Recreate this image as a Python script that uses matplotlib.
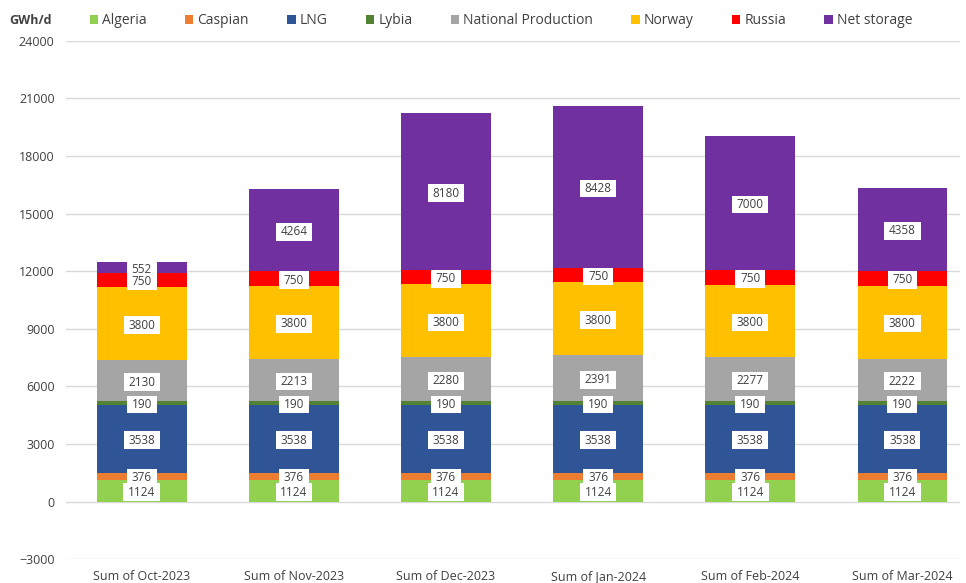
import numpy as np
import matplotlib.pyplot as plt

months = ["Sum of Oct-2023", "Sum of Nov-2023", "Sum of Dec-2023",
          "Sum of Jan-2024", "Sum of Feb-2024", "Sum of Mar-2024"]

algeria = [1124, 1124, 1124, 1124, 1124, 1124]
caspian = [376, 376, 376, 376, 376, 376]
lng = [3538, 3538, 3538, 3538, 3538, 3538]
lybia = [190, 190, 190, 190, 190, 190]
national = [2130, 2213, 2280, 2391, 2277, 2222]
norway = [3800, 3800, 3800, 3800, 3800, 3800]
russia = [750, 750, 750, 750, 750, 750]
net_storage = [552, 4264, 8180, 8428, 7000, 4358]

series = [
    ("Algeria", algeria, "#92D050"),
    ("Caspian", caspian, "#ED7D31"),
    ("LNG", lng, "#2F5597"),
    ("Lybia", lybia, "#548235"),
    ("National Production", national, "#A5A5A5"),
    ("Norway", norway, "#FFC000"),
    ("Russia", russia, "#FF0000"),
    ("Net storage", net_storage, "#7030A0"),
]

plt.rcParams['font.family'] = ['Open Sans', 'DejaVu Sans']

fig = plt.figure(figsize=(9.66, 5.83), dpi=100)
ax = fig.add_axes([0.068, 0.041, 0.926, 0.889])

x = np.arange(len(months))
bottom = np.zeros(len(months))
for i, (name, vals, col) in enumerate(series):
    vals = np.array(vals, dtype=float)
    ax.bar(x, vals, width=0.59, bottom=bottom, color=col, label=name, zorder=2)
    # lower segments' labels on top so stacked small labels stay readable
    for xi, b, v in zip(x, bottom, vals):
        ax.text(xi, b + v / 2, f"{int(v)}", ha='center', va='center_baseline', fontsize=8.5,
                color='#404040', zorder=5 - i * 0.1,
                bbox=dict(boxstyle='square,pad=0.4', fc='white', ec='none',
                          mutation_aspect=0.5))
    bottom += vals

ax.set_xlim(-0.5, 5.38)
ax.set_ylim(-3000, 24000)
ax.set_yticks(np.arange(-3000, 24001, 3000))
ax.tick_params(axis='y', length=0, labelsize=9, colors='#404040', pad=8)
ax.tick_params(axis='x', length=0, labelsize=9, colors='#404040', pad=8)
ax.set_xticks(x)
ax.set_xticklabels(months)
ax.grid(axis='y', color='#D9D9D9', lw=1, zorder=0)
for s in ax.spines.values():
    s.set_visible(False)

fig.text(0.01, 0.964, "GWh/d", fontsize=9, color='#404040', va='center', fontweight='bold')
fig.legend(loc='center left', bbox_to_anchor=(0.08, 0.964), ncol=8, frameon=False,
           fontsize=10, handlelength=0.6, handleheight=0.6, handletextpad=0.3,
           columnspacing=2.75, labelcolor='#404040')

fig.savefig("out.png", dpi=100)
